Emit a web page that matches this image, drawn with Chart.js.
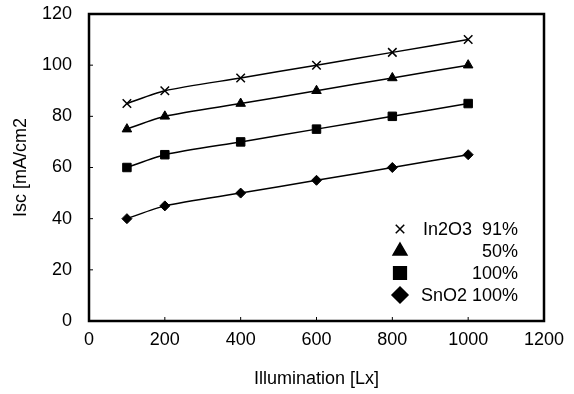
<!DOCTYPE html>
<html>
<head>
<meta charset="utf-8">
<script src="https://cdn.jsdelivr.net/npm/chart.js@4/dist/chart.umd.min.js"></script>
<style>
  html, body { margin: 0; padding: 0; background: #fff; }
  #wrap { width: 574px; height: 394px; }
</style>
</head>
<body>
<div id="wrap"><canvas id="chart" width="574" height="394"></canvas></div>
<script>
// illumination values (Lx)
const illumination = [100, 200, 400, 600, 800, 1000];

// Isc values per film
const in2o3_91 = [85, 90, 95, 100, 105, 110];
const in2o3_50 = [75, 80, 85, 90, 95, 100];
const in2o3_100 = [60, 65, 70, 75, 80, 85];
const sno2_100 = [40, 45, 50, 55, 60, 65];

const legendLabels = ['In2O3  91%', '50%', '100%', 'SnO2 100%'];
const markers = ['crossRot', 'triangle', 'rect', 'rectRot'];

const FONT = '"Liberation Sans", Arial, sans-serif';

const toPoints = (ys) => illumination.map((x, i) => ({ x: x, y: ys[i] }));

const makeSet = (label, ys, style, r) => ({
    label: label,
    data: toPoints(ys),
    borderColor: '#000',
    backgroundColor: '#000',
    borderWidth: 1.5,
    pointStyle: style,
    pointRadius: r,
    pointBorderWidth: style === 'crossRot' ? 1.5 : 1,
    pointBorderColor: '#000',
    pointBackgroundColor: '#000',
    tension: 0.25,
    fill: false,
});

// frame + inward ticks
const framePlugin = {
    id: 'frame',
    afterDraw(chart) {
        const {ctx, chartArea: a, scales} = chart;
        ctx.save();
        ctx.strokeStyle = '#000';
        ctx.lineWidth = 1;
        scales.y.ticks.forEach(t => {
            const py = scales.y.getPixelForValue(t.value);
            ctx.beginPath();
            ctx.moveTo(a.left, py);
            ctx.lineTo(a.left + 4, py);
            ctx.stroke();
        });
        scales.x.ticks.forEach(t => {
            const px = scales.x.getPixelForValue(t.value);
            ctx.beginPath();
            ctx.moveTo(px, a.bottom);
            ctx.lineTo(px, a.bottom - 4);
            ctx.stroke();
        });
        ctx.lineWidth = 2.5;
        ctx.strokeRect(a.left, a.top, a.right - a.left, a.bottom - a.top);
        ctx.restore();
    }
};

// legend drawn inside the plot, text right aligned
const legendPlugin = {
    id: 'insideLegend',
    afterDraw(chart) {
        const {ctx, chartArea: a} = chart;
        const mx = a.right - 144;
        const tx = a.right - 26;
        const y0 = a.bottom - 92;
        ctx.save();
        ctx.font = '18px ' + FONT;
        ctx.fillStyle = '#000';
        ctx.textAlign = 'right';
        ctx.textBaseline = 'middle';
        legendLabels.forEach((lab, i) => {
            const y = y0 + i * 22;
            ctx.strokeStyle = '#000';
            ctx.fillStyle = '#000';
            ctx.lineWidth = 1.5;
            const r = markers[i] === 'crossRot' ? 6 : (markers[i] === 'rect' ? 9 : 8);
            Chart.helpers.drawPoint(ctx, {pointStyle: markers[i], radius: r, rotation: 0, borderWidth: 1.5}, mx, y);
            ctx.fillText(lab, tx, y + 1);
        });
        ctx.restore();
    }
};

new Chart(document.getElementById('chart'), {
    type: 'line',
    data: {
        datasets: [
            makeSet(legendLabels[0], in2o3_91, markers[0], 6),
            makeSet(legendLabels[1], in2o3_50, markers[1], 5.5),
            makeSet(legendLabels[2], in2o3_100, markers[2], 6),
            makeSet(legendLabels[3], sno2_100, markers[3], 5),
        ]
    },
    options: {
        responsive: false,
        animation: false,
        layout: { padding: { left: 0, right: 30, top: 14, bottom: 0 } },
        plugins: {
            legend: { display: false },
            tooltip: { enabled: false },
        },
        scales: {
            x: {
                type: 'linear',
                min: 0,
                max: 1200,
                ticks: {
                    stepSize: 200, color: '#000', padding: 8,
                    font: { family: FONT, size: 18 },
                    callback: (v) => String(v),
                },
                grid: { display: false, drawTicks: false },
                border: { display: false },
                title: {
                    display: true,
                    text: 'Illumination [Lx]',
                    color: '#000',
                    font: { family: FONT, size: 18 },
                    padding: { top: 17 },
                },
                afterFit(s) { s.height = 73; },
            },
            y: {
                min: 0,
                max: 120,
                ticks: {
                    stepSize: 20, color: '#000', padding: 17,
                    font: { family: FONT, size: 18 },
                    callback: (v) => String(v),
                },
                grid: { display: false, drawTicks: false },
                border: { display: false },
                title: {
                    display: true,
                    text: 'Isc [mA/cm2',
                    color: '#000',
                    font: { family: FONT, size: 18 },
                    padding: { top: 10, bottom: 0 },
                },
                afterFit(s) {
                    s.width = 89;
                    s.paddingTop = 10;
                    s.paddingBottom = 10;
                },
            }
        }
    },
    plugins: [framePlugin, legendPlugin]
});
</script>
</body>
</html>
